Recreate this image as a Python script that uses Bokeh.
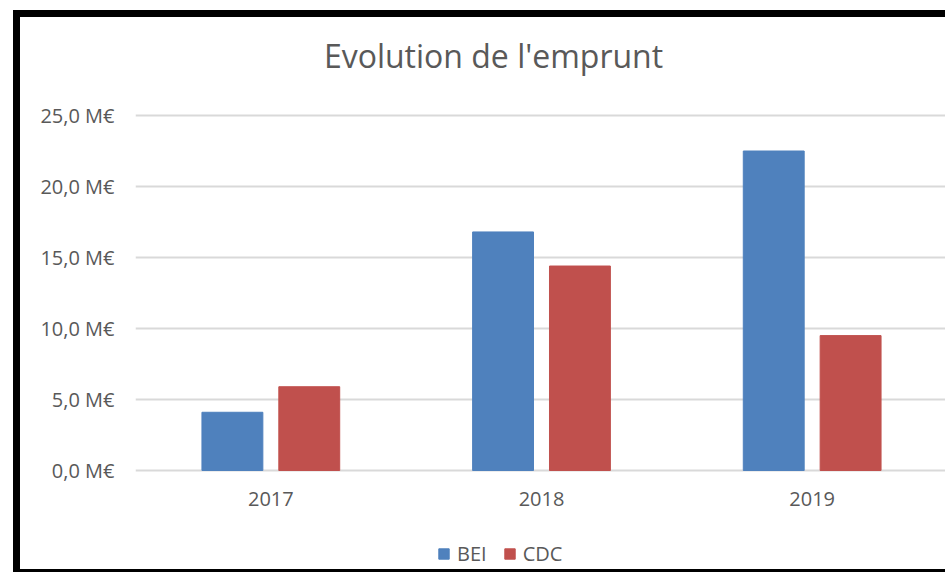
from bokeh.plotting import figure
from bokeh.models import (ColumnDataSource, FactorRange, Range1d, FixedTicker, Legend,
                          LegendItem, Label)
from bokeh.transform import dodge
from bokeh.embed import file_html
from bokeh.resources import INLINE

# ---- data ----
years = ["2017", "2018", "2019"]
bei = [4.1, 16.8, 22.5]
cdc = [5.9, 14.4, 9.5]
series_names = ["BEI", "CDC"]
series_colors = ["#4F81BD", "#C0504D"]
y_ticks = [0, 5, 10, 15, 20, 25]
y_tick_labels = ["0,0 M€", "5,0 M€", "10,0 M€", "15,0 M€", "20,0 M€", "25,0 M€"]
title_text = "Evolution de l'emprunt"

# ---- layout constants (pixels) ----
FONT = "Open Sans"
TXT = "#595959"
W, H = 932, 562
LEFT, RIGHT = 115, 5
GRID_TOP = 98              # pixel row of the top gridline (from canvas top)
GRID_H = 355               # pixel height between 0 and the top value
y_max = y_ticks[-1]
PX = GRID_H / y_max
y_hi = y_max + GRID_TOP / PX
y_lo = -(H - GRID_TOP - GRID_H) / PX

src = ColumnDataSource(dict(years=years, bei=bei, cdc=cdc))

p = figure(
    x_range=FactorRange(*years),
    y_range=Range1d(y_lo, y_hi),
    width=W, height=H,
    output_backend="svg", toolbar_location=None,
    min_border_left=LEFT, min_border_right=RIGHT, min_border_top=0, min_border_bottom=0,
    styles={"margin-left": "13px", "margin-top": "10px",
            "border-left": "7px solid black", "border-top": "7px solid black",
            "border-bottom": "3px solid black"},
)
p.background_fill_color = "white"
p.border_fill_color = "white"
p.outline_line_color = None

r1 = p.vbar(x=dodge("years", -0.142, range=p.x_range), top="bei", width=0.225,
            source=src, color=series_colors[0])
r2 = p.vbar(x=dodge("years", 0.142, range=p.x_range), top="cdc", width=0.225,
            source=src, color=series_colors[1])

# title (screen units: x from frame left, y from frame bottom)
p.add_layout(Label(x=358, y=524, x_units="screen", y_units="screen", text=title_text,
                   text_align="center", text_baseline="alphabetic",
                   text_font=FONT, text_font_size="32px", text_color=TXT))

# y axis
p.yaxis.ticker = FixedTicker(ticks=y_ticks)
p.yaxis.major_label_overrides = {t: l for t, l in zip(y_ticks, y_tick_labels)}
p.yaxis.axis_line_color = None
p.yaxis.major_tick_line_color = None
p.yaxis.minor_tick_line_color = None
p.yaxis.major_tick_out = 0
p.yaxis.minor_tick_out = 0
p.yaxis.major_label_standoff = 21
p.yaxis.major_label_text_font = FONT
p.yaxis.major_label_text_font_size = "20px"
p.yaxis.major_label_text_color = TXT

# x axis drawn at y = 0 inside the frame
p.xaxis.fixed_location = 0
p.xaxis.axis_line_color = None
p.xaxis.major_tick_line_color = None
p.xaxis.major_tick_out = 0
p.xaxis.major_label_standoff = 21
p.xaxis.major_label_text_font = FONT
p.xaxis.major_label_text_font_size = "20px"
p.xaxis.major_label_text_color = TXT

# grid
p.xgrid.grid_line_color = None
p.ygrid.grid_line_color = "#D9D9D9"
p.ygrid.grid_line_width = 2

# legend at the bottom of the frame
legend = Legend(
    items=[LegendItem(label=series_names[0], renderers=[r1]),
           LegendItem(label=series_names[1], renderers=[r2])],
    orientation="horizontal", location=(302, 12),
    label_text_font=FONT, label_text_font_size="20px", label_text_color=TXT,
    glyph_width=13, glyph_height=13, spacing=16, label_standoff=7,
    margin=0, padding=6, border_line_color=None, background_fill_alpha=0,
)
p.add_layout(legend, "center")

open("out.html", "w").write(file_html(p, INLINE))
